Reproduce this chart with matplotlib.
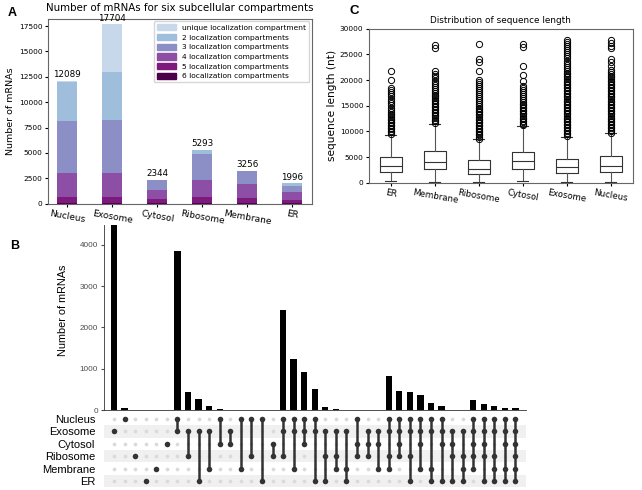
import numpy as np
import matplotlib
matplotlib.use("Agg")
import matplotlib.pyplot as plt
from matplotlib.patches import Patch

# ---- panel A: stacked counts per compartment ----
compartments = ["Nucleus", "Exosome", "Cytosol", "Ribosome", "Membrane", "ER"]
six_loc = [48, 48, 48, 48, 48, 48]
five_loc = [610, 640, 410, 575, 540, 346]
four_loc = [2330, 2300, 920, 1675, 1350, 720]
three_loc = [5150, 5250, 950, 2560, 1280, 590]
two_loc = [3900, 4760, 16, 435, 38, 290]
unique_loc = [51, 4706, 0, 0, 0, 2]
totals = [12089, 17704, 2344, 5293, 3256, 1996]

# ---- panel C: sequence length boxplots ----
box_names = ["ER", "Membrane", "Ribosome", "Cytosol", "Exosome", "Nucleus"]
box_low = [300, 200, 200, 250, 200, 100]
box_q1 = [2010, 2600, 1620, 2600, 1820, 2010]
box_med = [3310, 4030, 2730, 4220, 3050, 3310]
box_q3 = [5000, 6230, 4350, 6040, 4680, 5130]
box_high = [9350, 11500, 8440, 11040, 8960, 9610]
fliers_er = [9500, 9800, 10100, 10400, 10700, 11000, 11300, 11600, 11900, 12200,
             12500, 12800, 13100, 13400, 13800, 14200, 14600, 15100, 15500, 16000,
             16400, 16900, 17300, 17700, 18100, 18500, 20000, 21800]
fliers_membrane = [11700, 12000, 12300, 12600, 12900, 13200, 13500, 13800, 14100,
                   14400, 14700, 15000, 15300, 15600, 15900, 16200, 16500, 16800,
                   17100, 17500, 17900, 18300, 18700, 19100, 19500, 19900, 20300,
                   20700, 21100, 21700, 26300, 26900]
fliers_ribosome = [8600, 8900, 9200, 9500, 9800, 10100, 10400, 10700, 11000, 11300,
                   11600, 11900, 12200, 12500, 12800, 13100, 13400, 13700, 14000,
                   14300, 14600, 14900, 15300, 15700, 16100, 16500, 16900, 17300,
                   17700, 18100, 18500, 18900, 19300, 19700, 20100, 21700, 23500,
                   24000, 27000]
fliers_cytosol = [11200, 11500, 11800, 12100, 12400, 12700, 13000, 13300, 13600,
                  13900, 14200, 14500, 14800, 15100, 15400, 15700, 16100, 16500,
                  16900, 17300, 17700, 18100, 18500, 18900, 19800, 21000, 22800,
                  26500, 27000]
fliers_exosome = [9100, 9400, 9700, 10000, 10300, 10600, 10900, 11200, 11500, 11800,
                  12100, 12400, 12700, 13000, 13300, 13600, 13900, 14200, 14500,
                  14800, 15100, 15400, 15700, 16000, 16300, 16600, 16900, 17200,
                  17500, 17800, 18100, 18400, 18700, 19000, 19300, 19600, 19900,
                  20200, 20500, 20800, 21100, 21400, 21800, 22200, 22600, 23000,
                  23400, 23800, 24200, 24600, 25000, 25400, 25800, 26200, 26600,
                  27000, 27400, 27800]
fliers_nucleus = [9700, 10000, 10300, 10600, 10900, 11200, 11500, 11800, 12100,
                  12400, 12700, 13000, 13300, 13600, 13900, 14200, 14500, 14800,
                  15100, 15400, 15700, 16000, 16300, 16600, 16900, 17200, 17500,
                  17800, 18100, 18400, 18700, 19000, 19300, 19600, 19900, 20200,
                  20500, 20800, 21100, 21500, 22000, 22800, 23500, 24000, 26200,
                  26600, 27300, 27800]
fliers_all = [fliers_er, fliers_membrane, fliers_ribosome, fliers_cytosol,
              fliers_exosome, fliers_nucleus]

# ---- panel B: UpSet intersections ----
set_rows = ["Nucleus", "Exosome", "Cytosol", "Ribosome", "Membrane", "ER"]
intersections = [
    ["Exosome"], ["Nucleus"], ["Ribosome"], ["ER"], ["Membrane"], ["Cytosol"],
    ["Nucleus", "Exosome"], ["Exosome", "Ribosome"], ["Exosome", "ER"],
    ["Exosome", "Membrane"], ["Nucleus", "Cytosol"], ["Exosome", "Cytosol"],
    ["Nucleus", "Membrane"], ["Nucleus", "Ribosome"], ["Nucleus", "ER"],
    ["Cytosol", "Ribosome"],
    ["Nucleus", "Exosome", "Ribosome"], ["Nucleus", "Exosome", "Membrane"],
    ["Nucleus", "Exosome", "Cytosol"], ["Nucleus", "Exosome", "ER"],
    ["Exosome", "Ribosome", "ER"], ["Exosome", "Ribosome", "Membrane"],
    ["Exosome", "Membrane", "ER"], ["Nucleus", "Cytosol", "Ribosome"],
    ["Exosome", "Cytosol", "Ribosome"], ["Exosome", "Cytosol", "Membrane"],
    ["Nucleus", "Exosome", "Ribosome", "Membrane"],
    ["Nucleus", "Exosome", "Cytosol", "Ribosome"],
    ["Nucleus", "Exosome", "Ribosome", "ER"],
    ["Nucleus", "Exosome", "Cytosol", "Membrane"],
    ["Nucleus", "Exosome", "Membrane", "ER"],
    ["Nucleus", "Exosome", "Cytosol", "ER"],
    ["Exosome", "Cytosol", "Ribosome", "ER"],
    ["Exosome", "Ribosome", "Membrane", "ER"],
    ["Nucleus", "Exosome", "Cytosol", "Ribosome", "Membrane"],
    ["Nucleus", "Exosome", "Cytosol", "Ribosome", "ER"],
    ["Nucleus", "Exosome", "Ribosome", "Membrane", "ER"],
    ["Nucleus", "Exosome", "Cytosol", "Membrane", "ER"],
    ["Nucleus", "Exosome", "Cytosol", "Ribosome", "Membrane", "ER"],
]
inter_counts = [4706, 40, 6, 5, 4, 3,
                3860, 428, 265, 97, 26, 8, 6, 5, 4, 3,
                2430, 1227, 925, 505, 65, 24, 6, 5, 4, 3,
                830, 460, 444, 355, 170, 105, 5, 4,
                242, 153, 89, 40, 48]

W, H = 642, 490
fig = plt.figure(figsize=(W / 100, H / 100), dpi=100)


def box(l, t, r, b):
    return [l / W, 1 - b / H, (r - l) / W, (b - t) / H]


# ================= A =================
axA = fig.add_axes(box(48, 19, 311.7, 203.7))
colors_a = ["#4d004b", "#7e1a7e", "#8d4ea6", "#8c8fc6", "#9fbedb", "#c6d8ea"]
labels_a = ["6 localization compartments", "5 localization compartments",
            "4 localization compartments", "3 localization compartments",
            "2 localization compartments", "unique localization compartment"]
layers = [six_loc, five_loc, four_loc, three_loc, two_loc, unique_loc]
x = np.arange(len(compartments))
bottom = np.zeros(len(compartments))
for vals, c in zip(layers, colors_a):
    axA.bar(x, vals, 0.45, bottom=bottom, color=c)
    bottom += np.array(vals)
for xi, t in zip(x, totals):
    axA.text(xi, t + 150, str(t), ha="center", va="bottom", fontsize=6.3)
axA.set_xlim(-0.43, 5.43)
axA.set_ylim(0, 18200)
axA.set_yticks(np.arange(0, 17501, 2500))
axA.tick_params(axis="y", labelsize=5.3, length=2.5, pad=1.5)
axA.set_xticks(x)
axA.set_xticklabels(compartments, rotation=-10, fontsize=6.5)
axA.tick_params(axis="x", length=2.5, pad=1.5)
axA.set_ylabel("Number of mRNAs", fontsize=6.8, labelpad=3)
axA.set_title("Number of mRNAs for six subcellular compartments", fontsize=7.4, pad=6)
for s in axA.spines.values():
    s.set_color("#666666")
    s.set_linewidth(0.8)
handles = [Patch(color=c, label=l) for c, l in zip(colors_a, labels_a)][::-1]
axA.legend(handles=handles, loc="upper right", fontsize=5.4, borderaxespad=0.3,
           handlelength=2.6, handleheight=0.9, labelspacing=0.4)

# ================= C =================
axC = fig.add_axes(box(369, 28.7, 632.7, 182.7))
stats = []
for i, name in enumerate(box_names):
    stats.append(dict(label=name, whislo=box_low[i], q1=box_q1[i], med=box_med[i],
                      q3=box_q3[i], whishi=box_high[i], fliers=fliers_all[i]))
axC.bxp(stats, widths=0.5,
        boxprops=dict(color="#333333", linewidth=0.8),
        medianprops=dict(color="#333333", linewidth=0.8),
        whiskerprops=dict(color="#555555", linewidth=0.8),
        capprops=dict(color="#333333", linewidth=0.8),
        flierprops=dict(marker="o", markerfacecolor="none",
                        markeredgecolor="black", markersize=4.5, markeredgewidth=0.7))
axC.set_ylim(0, 30000)
axC.set_xlim(0.5, 6.5)
axC.set_yticks(np.arange(0, 30001, 5000))
axC.tick_params(axis="y", labelsize=5.3, length=2.5, pad=1.5)
axC.tick_params(axis="x", labelsize=6.2, length=2.5, pad=1.5)
for lab in axC.get_xticklabels():
    lab.set_rotation(-10)
axC.set_ylabel("sequence length (nt)", fontsize=7.6, labelpad=2)
axC.set_title("Distribution of sequence length", fontsize=6.4, pad=4)
for s in axC.spines.values():
    s.set_color("#666666")
    s.set_linewidth(0.8)

# ================= B =================
ncol = len(intersections)
axB = fig.add_axes(box(103.5, 225, 526, 410))
axB.bar(np.arange(ncol), inter_counts, 0.6, color="black")
axB.set_xlim(-1, ncol)
axB.set_ylim(0, 4480)
axB.set_yticks([0, 1000, 2000, 3000, 4000])
axB.set_xticks([])
for side in ["top", "right"]:
    axB.spines[side].set_visible(False)
axB.spines["left"].set_color("#333333")
axB.spines["bottom"].set_color("#333333")
axB.spines["left"].set_linewidth(0.6)
axB.spines["bottom"].set_linewidth(0.6)
axB.tick_params(axis="y", labelsize=5.9, labelcolor="#4d4d4d", color="#4d4d4d",
                length=2, pad=2)
for lab in axB.get_yticklabels():
    lab.set_family("Liberation Sans")
axB.set_ylabel("Number of mRNAs", fontsize=7.8, family="Liberation Sans")
axB.yaxis.set_label_coords(-0.083, 0.54)

axM = fig.add_axes(box(103.5, 412.8, 526, 487.2))
axM.set_xlim(-1, ncol)
axM.set_ylim(len(set_rows) - 0.5, -0.5)
for r in range(1, len(set_rows), 2):
    axM.axhspan(r - 0.5, r + 0.5, color="#f0f0f0", lw=0, zorder=0)
gx, gy = np.meshgrid(np.arange(ncol), np.arange(len(set_rows)))
axM.scatter(gx.ravel(), gy.ravel(), s=7, color="#dadada", lw=0, zorder=1)
for ci, members in enumerate(intersections):
    rows = [set_rows.index(m) for m in members]
    if len(rows) > 1:
        axM.plot([ci, ci], [min(rows), max(rows)], color="#333333", lw=1.8, zorder=2)
    axM.scatter([ci] * len(rows), rows, s=16, color="#333333", lw=0, zorder=3)
axM.set_xticks([])
axM.set_yticks(range(len(set_rows)))
axM.set_yticklabels(set_rows, fontsize=8, family="Liberation Sans")
axM.tick_params(axis="y", length=0, pad=6)
for s in axM.spines.values():
    s.set_visible(False)

# panel letters
fig.text(8 / W, 1 - 16 / H, "A", fontsize=9, fontweight="bold", family="Liberation Sans")
fig.text(10 / W, 1 - 249 / H, "B", fontsize=9, fontweight="bold", family="Liberation Sans")
fig.text(349 / W, 1 - 14 / H, "C", fontsize=9.5, fontweight="bold", family="Liberation Sans")

fig.savefig("out.png", dpi=100)
